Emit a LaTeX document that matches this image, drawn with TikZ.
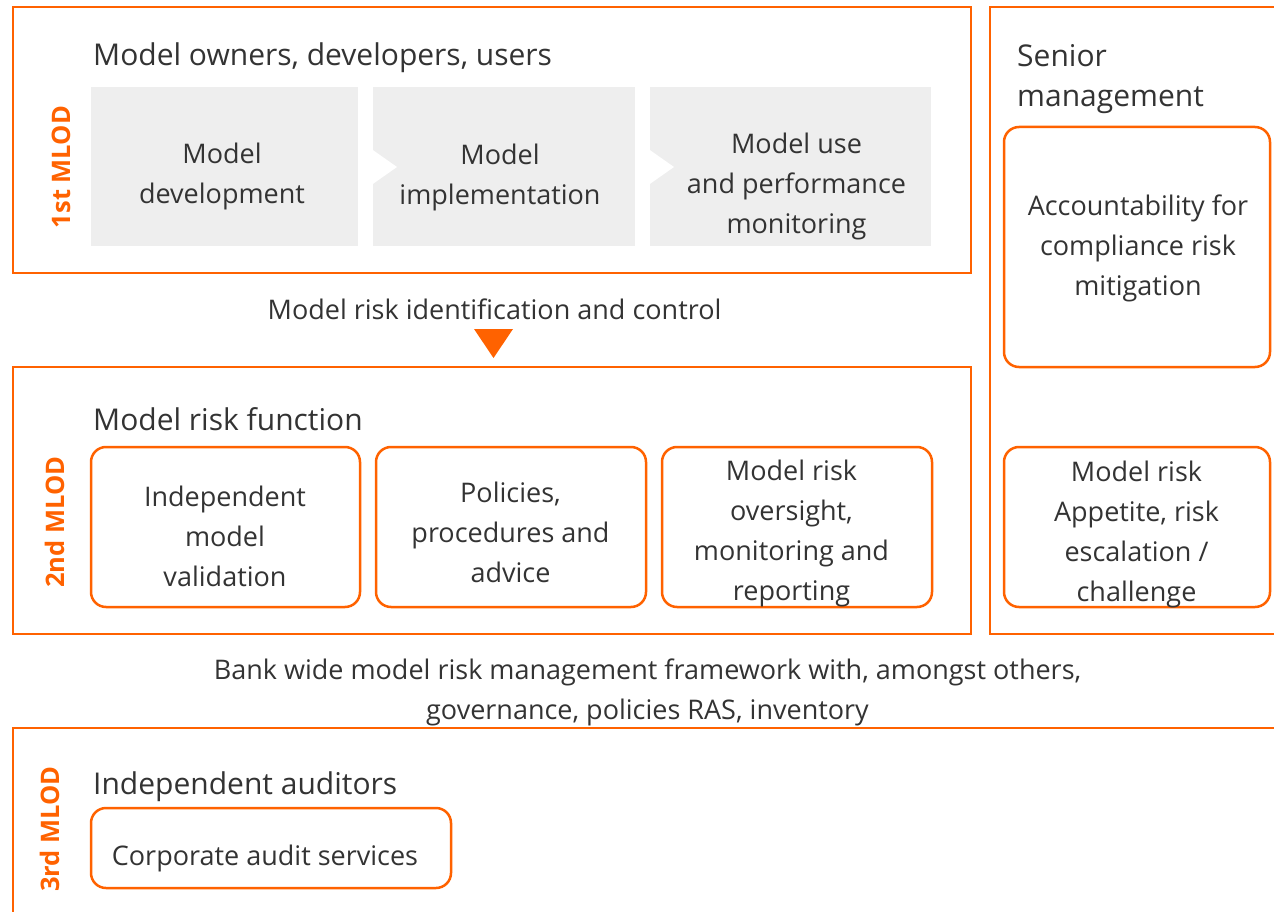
\documentclass[tikz,border=0pt]{standalone}
\usepackage{fontspec}
\setmainfont{Open Sans}
\definecolor{ingorange}{HTML}{FF6200}
\definecolor{txtc}{HTML}{333333}
\definecolor{greyfill}{HTML}{EEEEEE}
\begin{document}
\begin{tikzpicture}[x=1pt,y=-1pt,
  frame/.style={draw=ingorange, line width=2.5},
  greyb/.style={fill=greyfill, draw=none, inner sep=0},
  obox/.style={draw=ingorange, line width=2.5, rounded corners=15, inner sep=0},
  title/.style={anchor=base west, text=txtc, inner sep=0, font=\fontsize{30}{40}\selectfont},
  body/.style={text=txtc, inner sep=0, align=center, font=\fontsize{27}{40}\selectfont},
  mlod/.style={rotate=90, text=ingorange, inner sep=0, font=\bfseries\fontsize{25.5}{30}\selectfont}]
\useasboundingbox (0,0) rectangle (1274,912);
% frames
\draw[frame] (13,7) rectangle (971,273);
\draw[frame] (13,367) rectangle (971,634);
\draw[frame] (1285,7) -- (990,7) -- (990,634) -- (1285,634);
\draw[frame] (1285,728) -- (13,728) -- (13,925);
% titles
\node[title] (t1) at (93,66) {Model owners, developers, users};
\node[title] (t2) at (93,430) {Model risk function};
\node[title] (t3) at (93,794) {Independent auditors};
\node[title, align=left, anchor=north west] (t4) at (1017,44) {Senior\\management};
% MLOD
\node[mlod] (m1) at (61,167) {1st MLOD};
\node[mlod] (m2) at (55,522) {2nd MLOD};
\node[mlod] (m3) at (50,829) {3rd MLOD};
% grey boxes
\node[greyb, minimum width=267, minimum height=159] (g1) at (224.5,166.5) {};
\node[greyb, minimum width=262, minimum height=159] (g2) at (504,166.5) {};
\node[greyb, minimum width=281, minimum height=159] (g3) at (790.5,166.5) {};
\fill[white] (g2.west |- 0,150) -- (397,167) -- (g2.west |- 0,184) -- cycle;
\fill[white] (g3.west |- 0,150) -- (674,167) -- (g3.west |- 0,184) -- cycle;
\node[body] (g1t) at (222,176) {Model\\development};
\node[body] (g2t) at (500,177) {Model\\implementation};
\node[body] (g3t) at (796.5,186) {Model use\\and performance\\monitoring};
% arrow text and triangle
\node[body] (ctl) at (494.5,309) {Model risk identification and control};
\fill[ingorange] (474,329) -- (513,329) -- (493.5,358) -- cycle;
% 2nd row boxes
\node[obox, minimum width=269, minimum height=160] (o1) at (225.5,527) {};
\node[obox, minimum width=270, minimum height=160] (o2) at (511,527) {};
\node[obox, minimum width=270, minimum height=160] (o3) at (797,527) {};
\node[body] (o1t) at (225,536) {Independent\\model\\validation};
\node[body] (o2t) at (510.5,532) {Policies,\\procedures and\\advice};
\node[body] (o3t) at (791.5,533) {Model risk\\oversight,\\monitoring and\\reporting};
% senior boxes
\node[obox, minimum width=266, minimum height=240] (s1) at (1137,247) {};
\node[obox, minimum width=266, minimum height=160] (s2) at (1137,527) {};
\node[body] (s1t) at (1138,248) {Accountability for\\compliance risk\\mitigation};
\node[body] (s2t) at (1136.5,534) {Model risk\\Appetite, risk\\escalation /\\challenge};
% framework text
\node[body] (fw) at (647.5,692) {Bank wide model risk management framework with, amongst others,\\governance, policies RAS, inventory};
% audit box
\node[obox, minimum width=360, minimum height=80] (a1) at (271,848) {};
\node[body] (a1t) at (265,858) {Corporate audit services};
\end{tikzpicture}
\end{document}
